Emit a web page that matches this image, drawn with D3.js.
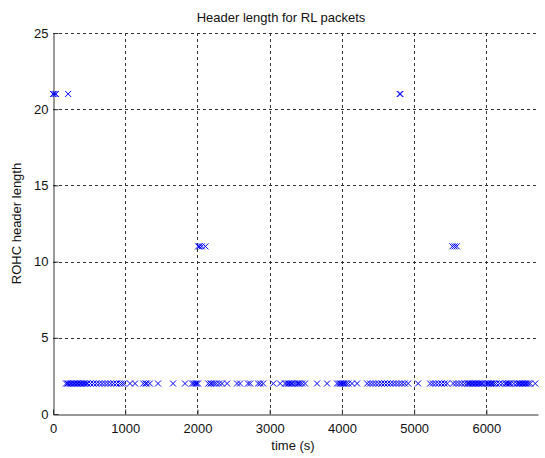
<!DOCTYPE html>
<html><head><meta charset="utf-8">
<script src="https://cdn.jsdelivr.net/npm/d3@7"></script>
<style>body{margin:0;background:#fff}svg{display:block}text{font-family:"Liberation Sans",Arial,sans-serif}</style>
</head><body>
<script>
const title = "Header length for RL packets";
const xLabel = "time (s)";
const yLabel = "ROHC header length";
const xTicks = [0,1000,2000,3000,4000,5000,6000];
const yTicks = [0,5,10,15,20,25];
const xDomain = [0, 6715];
const yDomain = [0, 25];
// packet times (s) with header length 2
const timesLen2 = [180,200,220,240,260,280,300,320,340,360,380,400,420,440,460,480,
  520,560,600,640,680,720,760,800,840,880,920,950,980,
  1066,1136,1250,1280,1300,1340,1454,1662,1828,1925,1950,1970,1990,2008,
  2150,2180,2200,2230,2260,2300,2340,2410,2548,2590,2700,2730,2840,2870,2910,
  3050,3145,3213,3240,3260,3280,3300,3320,3350,3380,3400,3420,3450,3490,
  3656,3795,3933,3960,3980,4000,4020,4040,4060,4090,4140,4210,
  4350,4390,4430,4470,4510,4550,4590,4630,4670,4710,4750,4790,4830,4870,4917,
  5055,5222,5260,5300,5340,5380,5420,5457,5540,5580,5620,5660,5700,5734,
  5750,5770,5790,5810,5830,5850,5870,5890,5910,5930,5950,5983,
  6011,6030,6050,6070,6090,6110,6140,6180,6220,6260,6280,6300,6320,6340,6380,6420,6440,6460,6480,6500,6520,6540,6560,6580,6606,6676];
const timesLen11 = [2010,2030,2060,2110,5530,5560,5590];
const timesLen21 = [0,20,40,210,4800,4810];

const W=545,H=458, m={l:53,r:7,t:33,b:44};
const svg=d3.select("body").append("svg").attr("width",W).attr("height",H);
const x=d3.scaleLinear().domain(xDomain).range([m.l,W-m.r]);
const y=d3.scaleLinear().domain(yDomain).range([H-m.b,m.t]);

// grid
const g=svg.append("g").attr("stroke","#333").attr("stroke-dasharray","3,3").attr("stroke-width",1);
xTicks.filter(d=>d>0).forEach(d=>g.append("line").attr("x1",Math.round(x(d))+0.5).attr("x2",Math.round(x(d))+0.5).attr("y1",y(25)).attr("y2",y(0)));
yTicks.filter(d=>d>0).forEach(d=>g.append("line").attr("y1",Math.round(y(d))+0.5).attr("y2",Math.round(y(d))+0.5).attr("x1",x(0)).attr("x2",x(xDomain[1])));

// axes
const xa=svg.append("g").attr("transform",`translate(0,${Math.round(y(0))+0.5})`)
  .call(d3.axisBottom(x).tickValues(xTicks).tickFormat(d3.format("d")).tickSizeInner(-5).tickSizeOuter(0).tickPadding(9));
const ya=svg.append("g").attr("transform",`translate(${Math.round(x(0))+0.5},0)`)
  .call(d3.axisLeft(y).tickValues(yTicks).tickSizeInner(-5).tickSizeOuter(0).tickPadding(5));
[xa,ya].forEach(a=>{a.selectAll("path,line").attr("stroke","#333");a.selectAll("text").attr("font-size",13).attr("fill","#111").attr("font-family","Liberation Sans, Arial, sans-serif");});

// markers
const pts=[...timesLen2.map(t=>[t,2]),...timesLen11.map(t=>[t,11]),...timesLen21.map(t=>[t,21])];
const s=3;
svg.append("g").attr("stroke","#0000ff").attr("stroke-width",1).attr("fill","none")
 .selectAll("path").data(pts).join("path")
 .attr("d",d=>{const cx=x(d[0]),cy=y(d[1]);return `M${cx-s},${cy-s}L${cx+s},${cy+s}M${cx-s},${cy+s}L${cx+s},${cy-s}`;});

svg.append("text").attr("x",281).attr("y",22).attr("text-anchor","middle").attr("font-size",13).attr("fill","#111").text(title);
svg.append("text").attr("x",293).attr("y",450).attr("text-anchor","middle").attr("font-size",13).attr("fill","#111").text(xLabel);
svg.append("text").attr("transform",`translate(21,${(m.t+H-m.b)/2}) rotate(-90)`).attr("text-anchor","middle").attr("font-size",13).attr("fill","#111").text(yLabel);
</script>
</body></html>
